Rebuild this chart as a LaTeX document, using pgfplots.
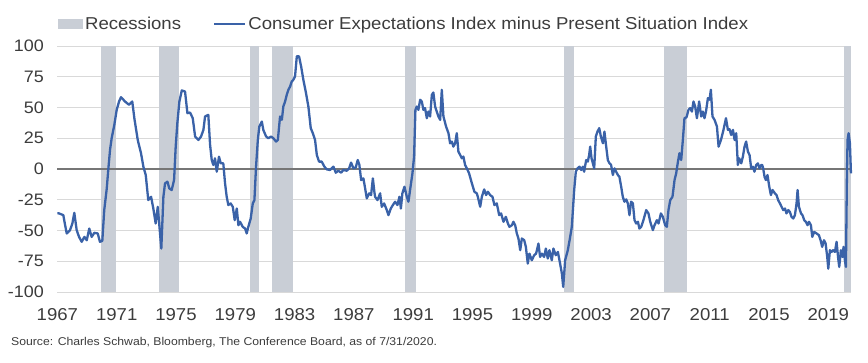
\documentclass[border=0pt]{standalone}
\usepackage{pgfplots}
\pgfplotsset{compat=1.18}
\usepackage{fontspec}
\setmainfont{Liberation Sans}[FakeStretch=1.08]
\definecolor{rec}{RGB}{201,206,214}
\definecolor{ln}{RGB}{58,98,168}
\definecolor{txt}{RGB}{60,60,60}
\definecolor{grd}{RGB}{217,217,217}
\definecolor{zer}{RGB}{118,118,118}
\begin{document}
\begin{tikzpicture}
\useasboundingbox (0,0) rectangle (868pt,362pt);
\begin{axis}[
  at={(57.4pt,70pt)}, anchor=south west,
  scale only axis, width=794pt, height=246pt,
  xmin=1967, xmax=2020.56, ymin=-100, ymax=100,
  xtick={1967,1971,1975,1979,1983,1987,1991,1995,1999,2003,2007,2011,2015,2019},
  xticklabels={1967,1971,1975,1979,1983,1987,1991,1995,1999,2003,2007,2011,2015,2019},
  ytick={-100,-75,-50,-25,0,25,50,75,100},
  yticklabels={-100,-75,-50,-25,0,25,50,75,100},
  axis line style={draw=none},
  major tick length=0pt,
  ymajorgrids, major grid style={draw=grd, line width=0.9pt},
  tick label style={text=txt},
  yticklabel style={xshift=-10pt, font=\fontsize{16.6}{18}\selectfont},
  xticklabel style={yshift=-13pt, font=\fontsize{17.2}{18}\selectfont},
  clip=false,
  legend style={at={(0,1)}, anchor=south west, yshift=12.5pt, draw=none, fill=none,
    legend columns=2, font=\fontsize{17.2}{19}\selectfont, text=txt, inner sep=0pt,
    /tikz/every even column/.append style={column sep=30pt}},
  legend cell align=left,
]
\addplot[fill=rec, draw=none, forget plot] coordinates {(1969.92,-100) (1969.92,100) (1970.92,100) (1970.92,-100)} -- cycle;
\addplot[fill=rec, draw=none,
  legend image code/.code={\fill[rec] (0pt,-5pt) rectangle (25.5pt,5pt);}]
  coordinates {(1973.87,-100) (1973.87,100) (1975.22,100) (1975.22,-100)} -- cycle;
\addlegendentry{Recessions}
\addplot[fill=rec, draw=none, forget plot] coordinates {(1980.0,-100) (1980.0,100) (1980.58,100) (1980.58,-100)} -- cycle;
\addplot[fill=rec, draw=none, forget plot] coordinates {(1981.5,-100) (1981.5,100) (1982.92,100) (1982.92,-100)} -- cycle;
\addplot[fill=rec, draw=none, forget plot] coordinates {(1990.47,-100) (1990.47,100) (1991.2,100) (1991.2,-100)} -- cycle;
\addplot[fill=rec, draw=none, forget plot] coordinates {(2001.14,-100) (2001.14,100) (2001.86,100) (2001.86,-100)} -- cycle;
\addplot[fill=rec, draw=none, forget plot] coordinates {(2007.91,-100) (2007.91,100) (2009.48,100) (2009.48,-100)} -- cycle;
\addplot[fill=rec, draw=none, forget plot] coordinates {(2020.08,-100) (2020.08,100) (2020.56,100) (2020.56,-100)} -- cycle;
\draw[zer, line width=1.3pt] (axis cs:1967,0) -- (axis cs:2020.56,0);
\addplot[ln, line width=2.3pt, line join=round,
  legend image code/.code={\draw[ln, line width=2.3pt] (0pt,0pt) -- (31pt,0pt);}]
coordinates {
(1967.0,-36) (1967.11,-36.1) (1967.40,-37.5) (1967.51,-45) (1967.63,-52.4) (1967.85,-49.7)
(1968.01,-44.3) (1968.14,-35.6) (1968.30,-49.7) (1968.46,-55.2) (1968.64,-59.2) (1968.82,-55.2)
(1968.98,-57.9) (1969.15,-48.4) (1969.31,-55.2) (1969.49,-51.9) (1969.72,-52.4) (1969.87,-59.2)
(1970.03,-58.4) (1970.16,-33.4) (1970.33,-15.8) (1970.43,-0.8) (1970.55,15.5) (1970.66,25)
(1970.84,35.9) (1971.00,48.1) (1971.16,54.9) (1971.29,58.4) (1971.56,54.9) (1971.83,52.2)
(1972.05,54.9) (1972.19,41.3) (1972.42,23.6) (1972.64,12.8) (1972.80,1.9) (1972.96,-4.9)
(1973.13,-25.3) (1973.32,-22.6) (1973.47,-32.1) (1973.63,-44.3) (1973.77,-30.7) (1974.01,-64.7)
(1974.15,-22.6) (1974.26,-11.7) (1974.42,-10.3) (1974.55,-15.8) (1974.71,-17.1) (1974.87,-9)
(1974.98,18.2) (1975.09,37.2) (1975.23,54.9) (1975.39,63.9) (1975.61,63) (1975.77,45.4)
(1975.95,45.9) (1976.13,41.3) (1976.29,26.4) (1976.51,23.6) (1976.69,26.4) (1976.85,31.8)
(1976.96,42.7) (1977.18,44) (1977.30,19.6) (1977.41,7.3) (1977.52,3.3) (1977.63,8.7)
(1977.75,-2.2) (1977.90,10) (1978.02,4.6) (1978.19,4.6) (1978.31,-11.7) (1978.42,-22.6)
(1978.53,-29.3) (1978.69,-28) (1978.83,-30.7) (1978.96,-41.6) (1979.10,-32.1) (1979.21,-45.7)
(1979.32,-42.9) (1979.50,-47) (1979.66,-48.4) (1979.77,-52.4) (1979.88,-47) (1980.04,-40.2)
(1980.18,-28) (1980.29,-25.3) (1980.40,1.9) (1980.52,23.6) (1980.62,34.5) (1980.79,38.6)
(1980.89,31.8) (1981.08,26.4) (1981.23,25) (1981.41,26.4) (1981.57,25) (1981.75,22.3)
(1981.87,23.6) (1982.02,42.7) (1982.14,40) (1982.24,50.8) (1982.36,54.9) (1982.47,60.3)
(1982.58,64.4) (1982.70,67.1) (1982.81,71.2) (1982.92,72.6) (1983.03,75.3) (1983.15,91.6)
(1983.30,91.6) (1983.44,83.4) (1983.59,72.6) (1983.75,63) (1983.93,50.8) (1984.09,33.2)
(1984.23,29.1) (1984.38,23.6) (1984.50,11.4) (1984.65,6) (1984.83,6) (1985.01,1.9)
(1985.17,-0.3) (1985.39,-0.8) (1985.62,1.9) (1985.78,-3) (1985.95,-1.4) (1986.14,-3)
(1986.29,-0.8) (1986.52,-1.4) (1986.68,0.5) (1986.81,5.2) (1986.97,0.5) (1987.13,1.4)
(1987.26,7.3) (1987.37,3.3) (1987.49,-9) (1987.64,-7.6) (1987.76,-15.8) (1987.87,-23.9)
(1988.03,-19.8) (1988.16,-21.2) (1988.28,-7.6) (1988.38,-18.5) (1988.43,-22.6) (1988.59,-25.3)
(1988.77,-19.8) (1988.88,-30.7) (1989.04,-28) (1989.22,-33.4) (1989.33,-37.5) (1989.49,-32.1)
(1989.63,-29.3) (1989.78,-26.6) (1989.94,-29.3) (1990.07,-22.6) (1990.17,-32.1) (1990.27,-19.8)
(1990.41,-14.4) (1990.57,-22.6) (1990.68,-26.6) (1990.79,-17.1) (1990.95,-3.5) (1991.06,10.1)
(1991.15,48.1) (1991.24,50.8) (1991.35,48.1) (1991.47,56.3) (1991.58,54.9) (1991.69,48.1)
(1991.80,49.5) (1991.92,41.3) (1992.03,46.7) (1992.14,42.7) (1992.26,60.3) (1992.36,62.2)
(1992.48,50.8) (1992.59,46.7) (1992.70,42.7) (1992.82,39.9) (1992.93,64.4) (1993.04,42.7)
(1993.22,34.5) (1993.38,29.1) (1993.49,20.9) (1993.61,22.3) (1993.71,18.2) (1993.83,20.9)
(1993.94,29.1) (1994.05,14.1) (1994.17,11.4) (1994.28,8.7) (1994.39,10.1) (1994.50,3.3)
(1994.62,0.5) (1994.77,-3.5) (1994.96,-11.7) (1995.13,-18.5) (1995.29,-19.8) (1995.36,-22.6)
(1995.52,-30.7) (1995.63,-22.6) (1995.79,-16.6) (1995.92,-21.2) (1996.04,-18.5) (1996.19,-21.2)
(1996.35,-22.6) (1996.48,-29.3) (1996.64,-28) (1996.80,-37.5) (1996.93,-36.1) (1997.09,-42.9)
(1997.25,-38.9) (1997.39,-44.3) (1997.49,-47) (1997.66,-45.7) (1997.76,-42.9) (1997.88,-45.7)
(1997.99,-52.4) (1998.10,-56.5) (1998.22,-66) (1998.33,-56.5) (1998.49,-57.9) (1998.60,-63.3)
(1998.73,-76.9) (1998.84,-68.8) (1999.00,-74.2) (1999.16,-70.1) (1999.29,-68.8) (1999.45,-60.6)
(1999.56,-71.5) (1999.68,-68.8) (1999.83,-71.5) (1999.95,-64.7) (2000.08,-72.8) (2000.19,-66)
(2000.35,-74.2) (2000.46,-64.7) (2000.62,-70.1) (2000.76,-67.4) (2000.91,-76.9) (2001.03,-85)
(2001.12,-95.9) (2001.25,-74.2) (2001.43,-66) (2001.59,-55.2) (2001.70,-47) (2001.86,-17.1)
(2001.97,-2.2) (2002.08,0.5) (2002.22,1.9) (2002.33,-0.8) (2002.45,1.9) (2002.53,-2.2)
(2002.67,7.3) (2002.78,6) (2002.87,11.4) (2002.94,18.2) (2003.03,8.7) (2003.12,4.6)
(2003.21,0.5) (2003.32,26.4) (2003.43,30.4) (2003.55,33.2) (2003.66,26.4) (2003.80,20.9)
(2003.90,30.4) (2004.02,18.2) (2004.13,7.3) (2004.24,4.6) (2004.35,3.3) (2004.47,-4.9)
(2004.58,0.5) (2004.69,-2.2) (2004.81,-4.9) (2004.91,-6.3) (2005.03,-14.4) (2005.14,-22.6)
(2005.25,-26.6) (2005.37,-24.7) (2005.48,-28) (2005.59,-37.5) (2005.70,-26.6) (2005.82,-28)
(2005.93,-41.6) (2006.04,-44.3) (2006.16,-42.9) (2006.26,-48.4) (2006.38,-47) (2006.53,-41.6)
(2006.72,-33.4) (2006.87,-36.1) (2006.99,-42.9) (2007.17,-49.7) (2007.28,-45.7) (2007.44,-41.6)
(2007.55,-44.3) (2007.71,-36.1) (2007.84,-38.9) (2008.00,-45.7) (2008.11,-47) (2008.22,-33.4)
(2008.34,-25.3) (2008.49,-22.6) (2008.63,-9) (2008.74,-3.5) (2008.86,6) (2008.96,12.8)
(2009.08,7.3) (2009.19,23.6) (2009.30,41.3) (2009.44,42.1) (2009.57,48.1) (2009.69,49.5)
(2009.80,46.7) (2009.91,54.9) (2010.02,50.8) (2010.14,41.3) (2010.29,54.9) (2010.43,42.7)
(2010.54,46.7) (2010.65,41.3) (2010.75,46.7) (2010.88,57.6) (2010.99,56.3) (2011.08,64.4)
(2011.19,42.7) (2011.33,39.9) (2011.49,34.5) (2011.60,18.2) (2011.76,23.6) (2011.93,31.8)
(2012.10,41.3) (2012.23,31.8) (2012.34,32.3) (2012.45,27.7) (2012.57,31.8) (2012.68,23.6)
(2012.79,29.1) (2012.90,3.3) (2012.99,8.7) (2013.13,4.6) (2013.24,10.1) (2013.35,18.2)
(2013.46,22.3) (2013.58,14.1) (2013.69,11.4) (2013.80,0.5) (2013.92,1.9) (2014.02,-2.2)
(2014.14,3.3) (2014.25,4.6) (2014.36,0.5) (2014.48,3.3) (2014.54,3.3) (2014.61,0.5)
(2014.70,-6.3) (2014.79,-9) (2014.90,-4.9) (2015.02,-14.4) (2015.13,-21.2) (2015.24,-17.1)
(2015.40,-19.8) (2015.51,-21.2) (2015.62,-25.3) (2015.74,-28) (2015.85,-30.7) (2015.96,-33.4)
(2016.08,-32.1) (2016.18,-36.1) (2016.30,-33.4) (2016.41,-34.8) (2016.52,-38.9) (2016.64,-40.2)
(2016.75,-37.5) (2016.86,-28) (2016.93,-17.1) (2017.02,-30.7) (2017.16,-36.1) (2017.26,-37.5)
(2017.38,-41.6) (2017.49,-42.9) (2017.60,-45.7) (2017.70,-42.9) (2017.83,-45.7) (2017.92,-55.2)
(2018.05,-51.1) (2018.21,-52.4) (2018.37,-53.8) (2018.48,-57.9) (2018.59,-63.3) (2018.71,-57.9)
(2018.82,-60.6) (2018.93,-71.5) (2019.00,-81) (2019.11,-66) (2019.22,-67.4) (2019.33,-66)
(2019.45,-67.4) (2019.56,-59.2) (2019.67,-72.8) (2019.74,-79.6) (2019.85,-66) (2019.96,-71.5)
(2020.03,-63.3) (2020.12,-74.2) (2020.19,-79.6) (2020.26,-3.5) (2020.30,23.6) (2020.37,29.1)
(2020.46,20.9) (2020.53,-3.5)
};
\addlegendentry{Consumer Expectations Index minus Present Situation Index}
\end{axis}
\node[anchor=west, font=\fontsize{11.3}{13}\selectfont, text=txt, inner sep=0pt] at (11pt,19.5pt)
  {Source: Charles Schwab, Bloomberg, The Conference Board, as of 7/31/2020.};
\end{tikzpicture}
\end{document}
